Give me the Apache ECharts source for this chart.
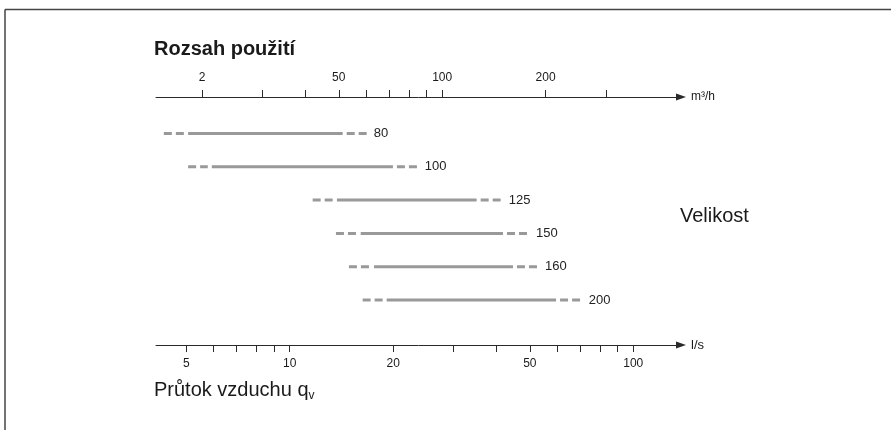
<!DOCTYPE html>
<html><head><meta charset="utf-8">
<script src="https://cdn.jsdelivr.net/npm/echarts@6/dist/echarts.min.js"></script>
<style>html,body{margin:0;padding:0;background:#fff}#c{width:891px;height:430px}</style>
</head><body><div id="c"></div>
<script>
// Sizes (Velikost) and flow ranges in l/s
const sizes = ['80', '100', '125', '150', '160', '200'];
const dashStart = [4.30, 5.06, 11.66, 13.63, 14.87, 16.30];
const solidStart = [5.06, 5.93, 13.72, 16.09, 17.59, 19.15];
const solidEnd = [14.26, 19.97, 35.0, 41.76, 44.65, 59.6];
const dashEnd = [16.75, 23.6, 41.4, 49.7, 52.8, 70.8];

// bottom axis (l/s)
const lsTicks = [5, 6, 7, 8, 9, 10, 20, 30, 40, 50, 60, 70, 80, 90, 100];
const lsLabels = [5, 10, 20, 50, 100];
// top axis (m3/h)
const m3hTicks = [20, 30, 40, 50, 60, 70, 80, 90, 100, 200, 300];
const m3hLabelValues = [20, 50, 100, 200];
const m3hLabelTexts = ['2', '50', '100', '200'];

const lsMin = 4.08, lsMax = 137.7, m3hPerLs = 3.6;

const FONT = '"Liberation Sans", Arial, Helvetica, sans-serif';
const AXIS_COLOR = '#2a2a2a';
const BAR_COLOR = '#999999';

const rows = sizes.map((s, i) => [i, dashStart[i], solidStart[i], solidEnd[i], dashEnd[i]]);

function renderRow(params, api) {
  const yi = api.value(0);
  const p0 = api.coord([api.value(1), yi]);
  const p1 = api.coord([api.value(2), yi]);
  const p2 = api.coord([api.value(3), yi]);
  const p3 = api.coord([api.value(4), yi]);
  const y = p0[1];
  const gap = 4;
  const dashStyle = { stroke: BAR_COLOR, lineWidth: 3, lineDash: [8, 4] };
  return {
    type: 'group',
    children: [
      { type: 'line', shape: { x1: p0[0], y1: y, x2: p1[0] - gap, y2: y }, style: dashStyle },
      { type: 'line', shape: { x1: p1[0], y1: y, x2: p2[0], y2: y }, style: { stroke: BAR_COLOR, lineWidth: 3 } },
      { type: 'line', shape: { x1: p2[0] + gap, y1: y, x2: p3[0], y2: y }, style: dashStyle },
      { type: 'text', x: p3[0] + 7, y: y, style: { text: sizes[yi], fill: '#222', font: '13px ' + FONT, textVerticalAlign: 'middle', textAlign: 'left' } }
    ]
  };
}

const chart = echarts.init(document.getElementById('c'), null, { renderer: 'canvas' });
chart.setOption({
  animation: false,
  backgroundColor: '#ffffff',
  textStyle: { fontFamily: FONT },
  grid: { left: 156, right: 210, top: 116.8, bottom: 113.3 },
  xAxis: [
    {
      type: 'log', logBase: 10, position: 'bottom', offset: 28.3,
      min: lsMin, max: lsMax,
      name: 'l/s', nameLocation: 'end', nameGap: 10,
      nameTextStyle: { fontFamily: FONT, fontSize: 13, color: '#1a1a1a', verticalAlign: 'middle' },
      axisLine: { show: true, symbol: ['none', 'triangle'], symbolSize: [7, 10], lineStyle: { color: AXIS_COLOR, width: 1 } },
      axisTick: { show: true, length: 7, inside: false, customValues: lsTicks, lineStyle: { color: AXIS_COLOR, width: 1 } },
      axisLabel: { show: true, customValues: lsLabels, margin: 13, fontFamily: FONT, fontSize: 12, color: '#1a1a1a' },
      splitLine: { show: false }, minorTick: { show: false }
    },
    {
      type: 'log', logBase: 10, position: 'top', offset: 19.8,
      min: lsMin * m3hPerLs, max: lsMax * m3hPerLs,
      name: 'm³/h', nameLocation: 'end', nameGap: 10,
      nameTextStyle: { fontFamily: FONT, fontSize: 12, color: '#1a1a1a', verticalAlign: 'middle' },
      axisLine: { show: true, symbol: ['none', 'triangle'], symbolSize: [7, 10], lineStyle: { color: AXIS_COLOR, width: 1 } },
      axisTick: { show: true, length: 7, inside: false, customValues: m3hTicks, lineStyle: { color: AXIS_COLOR, width: 1 } },
      axisLabel: {
        show: true, customValues: m3hLabelValues, margin: 13, fontFamily: FONT, fontSize: 12, color: '#1a1a1a',
        formatter: function (v) {
          let best = 0, bd = Infinity;
          m3hLabelValues.forEach((t, i) => { const d = Math.abs(Math.log(t) - Math.log(v)); if (d < bd) { bd = d; best = i; } });
          return m3hLabelTexts[best];
        }
      },
      splitLine: { show: false }, minorTick: { show: false }
    }
  ],
  yAxis: {
    type: 'category', data: sizes, inverse: true, show: false, boundaryGap: true
  },
  series: [{
    type: 'custom', xAxisIndex: 0, yAxisIndex: 0,
    renderItem: renderRow,
    encode: { x: [1, 2, 3, 4], y: 0 },
    data: rows,
    clip: false
  }],
  graphic: [
    { type: 'line', shape: { x1: 5, y1: 9.5, x2: 891, y2: 9.5 }, style: { stroke: '#444', lineWidth: 1.5 } },
    { type: 'line', shape: { x1: 5, y1: 9.5, x2: 5, y2: 430 }, style: { stroke: '#444', lineWidth: 1.5 } },
    { type: 'text', left: 154, top: 39, style: { text: 'Rozsah použití', font: 'bold 20px ' + FONT, fill: '#1a1a1a' } },
    { type: 'text', left: 680, top: 206, style: { text: 'Velikost', font: '20px ' + FONT, fill: '#1a1a1a' } },
    {
      type: 'text', left: 154, top: 380,
      style: {
        text: '{a|Průtok vzduchu q}{b|v}',
        rich: {
          a: { fontSize: 20, fontFamily: FONT, fill: '#1a1a1a', color: '#1a1a1a' },
          b: { fontSize: 12, fontFamily: FONT, fill: '#1a1a1a', color: '#1a1a1a', padding: [11, 0, 0, 0] }
        }
      }
    }
  ]
});
</script>
</body></html>
